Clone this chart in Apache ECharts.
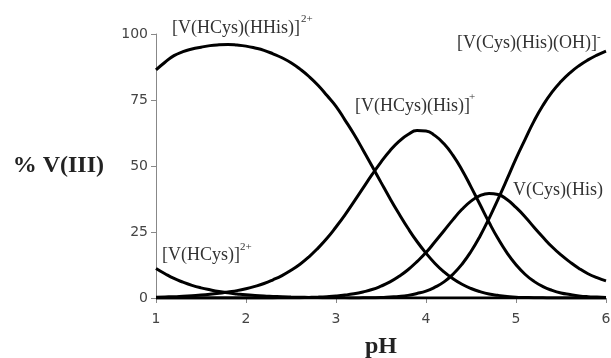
<!DOCTYPE html>
<html>
<head>
<meta charset="utf-8">
<script src="https://cdn.jsdelivr.net/npm/echarts@6/dist/echarts.min.js"></script>
<style>
  html, body { margin: 0; padding: 0; background: #fff; }
  #chart { width: 611px; height: 358px; }
</style>
</head>
<body>
<div id="chart"></div>
<script>
// pH grid the curves were read at (1.0 .. 6.0, step 0.1)
var phValues = [1.0, 1.1, 1.2, 1.3, 1.4, 1.5, 1.6, 1.7, 1.8, 1.9,
                2.0, 2.1, 2.2, 2.3, 2.4, 2.5, 2.6, 2.7, 2.8, 2.9,
                3.0, 3.1, 3.2, 3.3, 3.4, 3.5, 3.6, 3.7, 3.8, 3.9,
                4.0, 4.1, 4.2, 4.3, 4.4, 4.5, 4.6, 4.7, 4.8, 4.9,
                5.0, 5.1, 5.2, 5.3, 5.4, 5.5, 5.6, 5.7, 5.8, 5.9, 6.0];

// % V(III) per species
var vHCys = [11.2, 9.2, 7.4, 6.0, 4.8, 3.85, 3.1, 2.45, 1.95, 1.55,
             1.2, 0.95, 0.75, 0.6, 0.45, 0.35, 0.28, 0.2, 0.15, 0.1,
             0.08, 0.05, 0.03, 0.02, 0.01, 0, 0, 0, 0, 0,
             0, 0, 0, 0, 0, 0, 0, 0, 0, 0,
             0, 0, 0, 0, 0, 0, 0, 0, 0, 0, 0];
var vHCysHHis = [86.4, 89.3, 91.8, 93.3, 94.3, 95.0, 95.6, 95.9, 96.0, 95.8,
                 95.4, 94.7, 93.8, 92.5, 91.0, 89.1, 86.7, 83.9, 80.6, 76.7,
                 72.6, 67.4, 62.0, 56.1, 50.0, 43.8, 37.7, 31.9, 26.4, 21.4,
                 17.0, 13.1, 9.9, 7.3, 5.2, 3.6, 2.4, 1.5, 1.0, 0.6,
                 0.3, 0.2, 0.1, 0.05, 0, 0, 0, 0, 0, 0, 0];
var vHCysHis = [0.3, 0.4, 0.5, 0.7, 0.9, 1.1, 1.4, 1.8, 2.3, 2.8,
                3.5, 4.4, 5.5, 6.9, 8.5, 10.5, 12.8, 15.6, 18.9, 22.6,
                26.9, 31.5, 36.5, 41.6, 46.7, 51.5, 55.8, 59.3, 61.9, 63.4,
                63.3, 61.5, 58.4, 54.0, 48.5, 42.1, 35.4, 28.7, 22.5, 17.1,
                12.6, 9.0, 6.3, 4.3, 2.9, 1.9, 1.3, 0.8, 0.5, 0.35, 0.2];
var vCysHis = [0, 0, 0, 0, 0, 0, 0, 0, 0, 0,
               0, 0, 0, 0.04, 0.06, 0.09, 0.14, 0.22, 0.33, 0.5,
               0.74, 1.1, 1.6, 2.3, 3.2, 4.5, 6.1, 8.2, 10.7, 13.8,
               17.2, 21.3, 25.5, 29.7, 33.6, 36.7, 38.8, 39.6, 39.2, 37.3,
               34.3, 30.8, 26.8, 23.0, 19.4, 16.3, 13.6, 11.2, 9.2, 7.7, 6.5];
var vCysHisOH = [0, 0, 0, 0, 0, 0, 0, 0, 0, 0,
                 0, 0, 0, 0, 0, 0, 0, 0, 0, 0,
                 0, 0, 0, 0.07, 0.12, 0.2, 0.4, 0.6, 1.0, 1.7,
                 2.6, 4.1, 6.1, 9.0, 12.8, 17.6, 23.4, 30.1, 37.4, 45.0,
                 52.8, 60.0, 67.0, 73.0, 78.0, 82.0, 85.3, 88.0, 90.2, 92.0, 93.5];

var xTicks = [1, 2, 3, 4, 5, 6];
var yTicks = [0, 25, 50, 75, 100];

var allSeries = [vHCys, vHCysHHis, vHCysHis, vCysHis, vCysHisOH];

function pairs(vals) {
    return phValues.map(function (p, i) { return [p, vals[i]]; });
}

var serif = '"Liberation Serif", "Times New Roman", serif';
var labelColor = '#333';

function note(x, y, text, size) {
    return {
        type: 'text', left: x, top: y,
        style: { text: text, fill: labelColor, font: (size || 18) + 'px ' + serif }
    };
}

var chart = echarts.init(document.getElementById('chart'));

var option = {
    animation: false,
    // keep the plot box fixed, v6 would shrink it to fit the names
    grid: { left: 156, right: 5, top: 34, bottom: 60, outerBoundsMode: 'none' },
    xAxis: {
        type: 'value',
        min: xTicks[0],
        max: xTicks[xTicks.length - 1],
        interval: 1,
        name: 'pH',
        nameLocation: 'middle',
        nameGap: 37,
        nameTextStyle: { fontFamily: serif, fontWeight: 'bold', fontSize: 24, color: '#222' },
        axisLine: { lineStyle: { color: '#888', width: 1 } },
        axisTick: { show: true, length: 5, lineStyle: { color: '#888' } },
        axisLabel: { fontFamily: 'DejaVu Sans', fontSize: 14, color: '#444', margin: 14 },
        splitLine: { show: false }
    },
    yAxis: {
        type: 'value',
        min: yTicks[0],
        max: yTicks[yTicks.length - 1],
        interval: 25,
        name: '% V(III)',
        nameLocation: 'middle',
        nameRotate: 0,
        nameGap: 52,
        nameTextStyle: { fontFamily: serif, fontWeight: 'bold', fontSize: 24, color: '#222', align: 'right' },
        axisLine: { show: true, lineStyle: { color: '#888', width: 1 } },
        axisTick: { show: true, length: 5, lineStyle: { color: '#888' } },
        axisLabel: { fontFamily: 'DejaVu Sans', fontSize: 14, color: '#444', margin: 8 },
        splitLine: { show: false }
    },
    series: allSeries.map(function (vals) {
        return {
            type: 'line',
            data: pairs(vals),
            smooth: true,
            showSymbol: false,
            lineStyle: { color: '#000', width: 3 }
        };
    }),
    graphic: [
        note(172, 19, '[V(HCys)(HHis)]'),
        note(301, 14, '2+', 11),
        note(355, 97, '[V(HCys)(His)]'),
        note(469, 92, '+', 11),
        note(457, 34, '[V(Cys)(His)(OH)]'),
        note(597, 32, '-', 11),
        note(513, 181, 'V(Cys)(His)'),
        note(162, 246, '[V(HCys)]'),
        note(240, 242, '2+', 11)
    ]
};

chart.setOption(option);
</script>
</body>
</html>
